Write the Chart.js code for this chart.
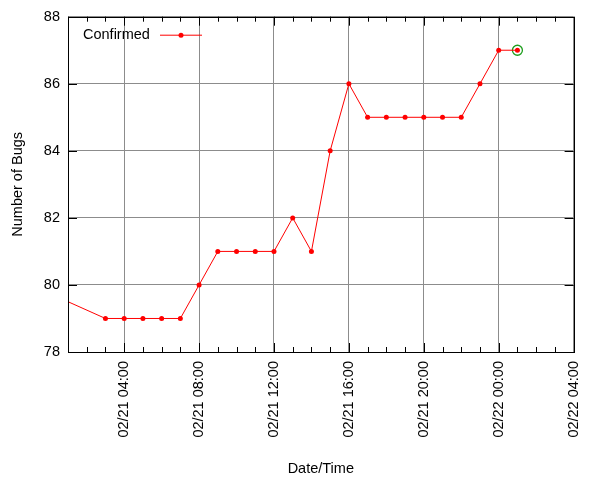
<!DOCTYPE html>
<html lang="en">
<head>
    <meta charset="UTF-8">
    <title>Bugs</title>
    <script src="https://cdn.jsdelivr.net/npm/chart.js@4.4.0/dist/chart.umd.min.js"></script>
    <style>
        body { margin: 0; background: #fff; }
        canvas { display: block; }
    </style>
</head>
<body>
    <canvas id="bugChart" width="600" height="480"></canvas>
    <script>
        // hours counted from 02/21 00:00
        const hours = [-1, 3, 4, 5, 6, 7, 8, 9, 10, 11, 12, 13, 14, 15, 16, 17, 18, 19, 20, 21, 22, 23, 24, 25];
        const confirmed = [80, 79, 79, 79, 79, 79, 80, 81, 81, 81, 81, 82, 81, 84, 86, 85, 85, 85, 85, 85, 85, 86, 87, 87];
        const xMin = 1, xMax = 28;
        const yMin = 78, yMax = 88, yStep = 2;
        const seriesLabel = 'Confirmed';

        const FONT = { family: '"Liberation Sans", Arial, sans-serif', size: 14.5 };
        const GRID = '#8c8c8c';

        function fmtHour(h) {
            const day = 21 + Math.floor(h / 24);
            const hh = ((h % 24) + 24) % 24;
            return '02/' + day + ' ' + String(hh).padStart(2, '0') + ':00';
        }

        // inward ticks, full frame box and legend inside the plot
        const framePlugin = {
            id: 'frame',
            afterDraw(chart) {
                const ctx = chart.ctx;
                const a = chart.chartArea;
                const xs = chart.scales.x, ys = chart.scales.y;
                ctx.save();
                ctx.strokeStyle = '#000';
                ctx.lineWidth = 1;
                ctx.beginPath();
                for (let h = xMin; h <= xMax; h++) {
                    const px = Math.round(xs.getPixelForValue(h)) + 0.5;
                    const len = h % 4 === 0 ? 9 : 5;
                    ctx.moveTo(px, a.bottom); ctx.lineTo(px, a.bottom - len);
                    ctx.moveTo(px, a.top); ctx.lineTo(px, a.top + len);
                }
                for (let v = yMin; v <= yMax; v += yStep) {
                    const py = Math.round(ys.getPixelForValue(v)) + 0.5;
                    ctx.moveTo(a.left, py); ctx.lineTo(a.left + 9, py);
                    ctx.moveTo(a.right, py); ctx.lineTo(a.right - 9, py);
                }
                ctx.stroke();
                ctx.strokeRect(Math.round(a.left) + 0.5, Math.round(a.top) + 0.5,
                    Math.round(a.right - a.left), Math.round(a.bottom - a.top));

                // legend
                const ds = chart.data.datasets[0];
                ctx.font = FONT.size + 'px ' + FONT.family;
                ctx.fillStyle = '#000';
                ctx.textBaseline = 'middle';
                ctx.textAlign = 'left';
                ctx.fillText(ds.label, a.left + 15, a.top + 18);
                const ly = a.top + 18.5;
                ctx.strokeStyle = ds.borderColor;
                ctx.beginPath();
                ctx.moveTo(a.left + 92, ly); ctx.lineTo(a.left + 134, ly);
                ctx.stroke();
                ctx.fillStyle = ds.pointBackgroundColor;
                ctx.beginPath();
                ctx.arc(a.left + 113, ly, ds.pointRadius, 0, Math.PI * 2);
                ctx.fill();
                ctx.restore();
            }
        };

        const points = hours.map((h, i) => ({ x: h, y: confirmed[i] }));
        const last = points[points.length - 1];

        new Chart(document.getElementById('bugChart'), {
            type: 'line',
            data: {
                datasets: [{
                    label: seriesLabel,
                    data: points,
                    borderColor: '#ff0000',
                    backgroundColor: '#ff0000',
                    pointBackgroundColor: '#ff0000',
                    pointBorderWidth: 0,
                    borderWidth: 1,
                    pointRadius: 2.5,
                    tension: 0
                }, {
                    label: 'latest',
                    data: [last],
                    showLine: false,
                    borderColor: '#1e9e1e',
                    backgroundColor: 'rgba(0,0,0,0)',
                    pointBorderColor: '#1e9e1e',
                    pointBackgroundColor: 'rgba(0,0,0,0)',
                    pointBorderWidth: 1.3,
                    pointRadius: 5
                }]
            },
            options: {
                responsive: false,
                animation: false,
                layout: { padding: { top: 16, right: 26, left: 0, bottom: 0 } },
                plugins: {
                    legend: { display: false },
                    tooltip: { enabled: false }
                },
                scales: {
                    x: {
                        type: 'linear',
                        min: xMin,
                        max: xMax,
                        afterFit(scale) { scale.height = 128; },
                        afterBuildTicks(scale) {
                            scale.ticks = [];
                            for (let h = xMin; h <= xMax; h++) scale.ticks.push({ value: h });
                        },
                        ticks: {
                            autoSkip: false,
                            minRotation: 90,
                            maxRotation: 90,
                            padding: 9,
                            color: '#000',
                            font: FONT,
                            callback: v => (v % 4 === 0 ? fmtHour(v) : '')
                        },
                        grid: {
                            drawTicks: false,
                            color: c => (c.tick && c.tick.value % 4 === 0 ? GRID : 'rgba(0,0,0,0)'),
                            lineWidth: 1
                        },
                        border: { display: false },
                        title: { display: true, text: 'Date/Time', color: '#000', font: FONT, padding: 2 }
                    },
                    y: {
                        min: yMin,
                        max: yMax,
                        afterFit(scale) { scale.width = 68; },
                        ticks: { stepSize: yStep, padding: 8, color: '#000', font: FONT },
                        grid: { drawTicks: false, color: GRID, lineWidth: 1 },
                        border: { display: false },
                        title: { display: true, text: 'Number of Bugs', color: '#000', font: FONT, padding: 9 }
                    }
                }
            },
            plugins: [framePlugin]
        });
    </script>
</body>
</html>
